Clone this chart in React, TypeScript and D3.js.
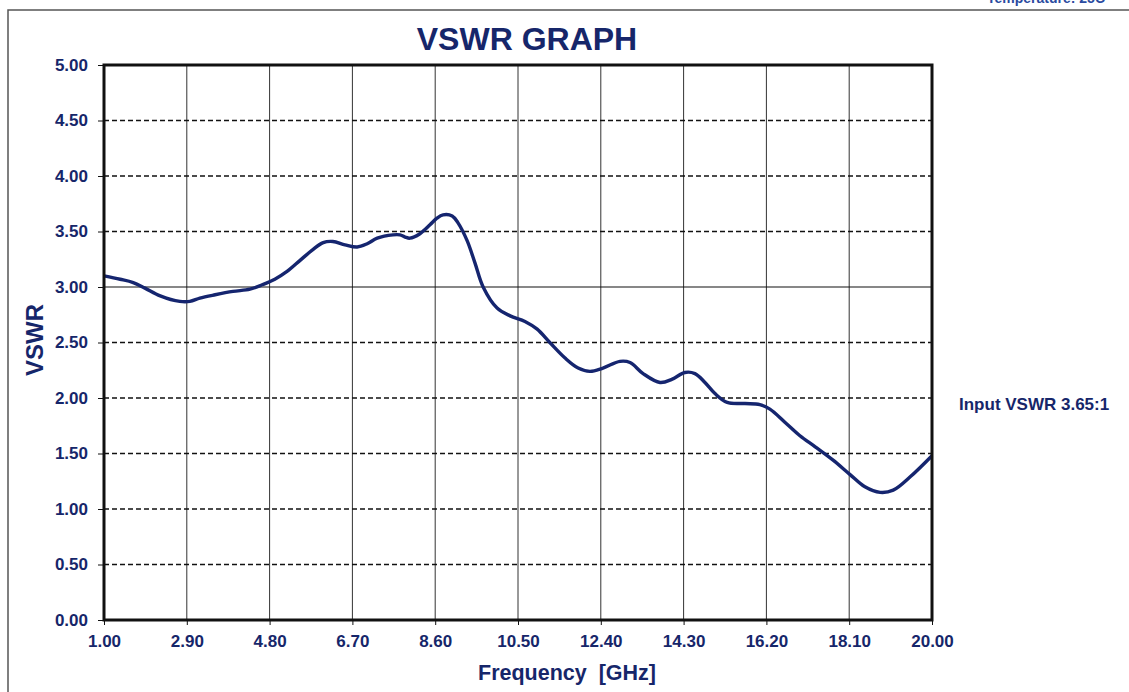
import React, { useEffect, useRef } from 'react';
import * as d3 from 'd3';

// frequency (GHz) and VSWR
const freqs = [
  1.0, 1.37, 1.67, 1.94, 2.29, 2.74, 2.97, 3.2, 3.55, 3.96, 4.35, 4.63, 4.92, 5.2, 5.5, 5.77,
  6.03, 6.25, 6.53, 6.81, 7.04, 7.27, 7.63, 7.79, 7.91, 8.02, 8.25, 8.48, 8.64, 8.78, 8.99,
  9.12, 9.33, 9.51, 9.7, 10.02, 10.32, 10.66, 10.94, 11.23, 11.58, 11.88, 12.15, 12.45, 12.84,
  13.07, 13.37, 13.76, 14.04, 14.33, 14.56, 14.79, 15.02, 15.3, 15.71, 16.05, 16.28, 16.63,
  16.97, 17.32, 17.73, 18.12, 18.46, 18.81, 19.11, 19.5, 20.0,
];
const vswr = [
  3.1, 3.07, 3.04, 2.99, 2.92, 2.87, 2.87, 2.9, 2.93, 2.96, 2.98, 3.02, 3.07, 3.14, 3.24, 3.33,
  3.4, 3.41, 3.38, 3.36, 3.39, 3.44, 3.47, 3.47, 3.45, 3.44, 3.48, 3.56, 3.62, 3.65, 3.64,
  3.58, 3.42, 3.22, 3.0, 2.81, 2.74, 2.69, 2.62, 2.5, 2.36, 2.27, 2.24, 2.27, 2.33,
  2.32, 2.22, 2.14, 2.17, 2.23, 2.22, 2.14, 2.04, 1.96, 1.95, 1.94, 1.9, 1.78,
  1.66, 1.56, 1.44, 1.31, 1.2, 1.15, 1.17, 1.29, 1.48,
];
const xTicks = [1.0, 2.9, 4.8, 6.7, 8.6, 10.5, 12.4, 14.3, 16.2, 18.1, 20.0];
const yTicks = [0, 0.5, 1, 1.5, 2, 2.5, 3, 3.5, 4, 4.5, 5];

const NAVY = '#16266a';
const LINE = '#15256f';
const FONT = 'Liberation Sans, Arial, sans-serif';

const App = () => {
  const ref = useRef<SVGSVGElement>(null);

  useEffect(() => {
    const svg = d3.select(ref.current);
    svg.selectAll('*').remove();

    const left = 104;
    const right = 932;
    const top = 65;
    const bottom = 620;

    const x = d3.scaleLinear().domain([1, 20]).range([left, right]);
    const y = d3.scaleLinear().domain([0, 5]).range([bottom, top]);

    svg.append('rect').attr('width', 1129).attr('height', 692).attr('fill', '#fff');

    // outer frame of the page
    svg
      .append('path')
      .attr('d', 'M8,692 L8,10 L1129,10')
      .attr('fill', 'none')
      .attr('stroke', '#555')
      .attr('stroke-width', 1.5);

    svg
      .append('text')
      .attr('x', 1105)
      .attr('y', 3)
      .attr('text-anchor', 'end')
      .attr('font-family', FONT)
      .attr('font-weight', 'bold')
      .attr('font-size', 14)
      .attr('fill', '#2a4aa0')
      .text('Temperature:  25C');

    // vertical grid
    svg
      .append('g')
      .selectAll('line')
      .data(xTicks.slice(1, -1))
      .enter()
      .append('line')
      .attr('x1', (d) => x(d))
      .attr('x2', (d) => x(d))
      .attr('y1', top)
      .attr('y2', bottom)
      .attr('stroke', '#333')
      .attr('stroke-width', 1);

    // horizontal grid; 3.00 drawn solid
    svg
      .append('g')
      .selectAll('line')
      .data(yTicks.slice(1, -1))
      .enter()
      .append('line')
      .attr('x1', left)
      .attr('x2', right)
      .attr('y1', (d) => y(d))
      .attr('y2', (d) => y(d))
      .attr('stroke', '#111')
      .attr('stroke-width', (d) => (d === 3 ? 1.2 : 1.5))
      .attr('stroke-dasharray', (d) => (d === 3 ? null : '5,3'));

    // curve
    const pts: [number, number][] = freqs.map((f, i) => [f, vswr[i]]);
    const line = d3
      .line<[number, number]>()
      .x((d) => x(d[0]))
      .y((d) => y(d[1]))
      .curve(d3.curveCatmullRom.alpha(0.5));
    svg
      .append('path')
      .datum(pts)
      .attr('d', line)
      .attr('fill', 'none')
      .attr('stroke', LINE)
      .attr('stroke-width', 3.4)
      .attr('stroke-linejoin', 'round');

    // plot border
    svg
      .append('rect')
      .attr('x', left)
      .attr('y', top)
      .attr('width', right - left)
      .attr('height', bottom - top)
      .attr('fill', 'none')
      .attr('stroke', '#111')
      .attr('stroke-width', 3);

    // axes
    const yAxis = svg
      .append('g')
      .attr('transform', `translate(${left},0)`)
      .call(
        d3
          .axisLeft(y)
          .tickValues(yTicks)
          .tickFormat((d) => d3.format('.2f')(d as number))
          .tickSize(6)
          .tickPadding(10)
      );
    yAxis.select('.domain').remove();
    yAxis.selectAll('line').attr('stroke', '#111');
    yAxis
      .selectAll('text')
      .attr('font-family', FONT)
      .attr('font-weight', 'bold')
      .attr('font-size', 17)
      .attr('fill', NAVY);

    const xAxis = svg
      .append('g')
      .attr('transform', `translate(0,${bottom})`)
      .call(
        d3
          .axisBottom(x)
          .tickValues(xTicks)
          .tickFormat((d) => d3.format('.2f')(d as number))
          .tickSize(5)
          .tickPadding(10)
      );
    xAxis.select('.domain').remove();
    xAxis.selectAll('line').attr('stroke', '#111');
    xAxis
      .selectAll('text')
      .attr('font-family', FONT)
      .attr('font-weight', 'bold')
      .attr('font-size', 17)
      .attr('fill', NAVY);

    // titles
    svg
      .append('text')
      .attr('x', 527)
      .attr('y', 50)
      .attr('text-anchor', 'middle')
      .attr('font-family', FONT)
      .attr('font-weight', 'bold')
      .attr('font-size', 32)
      .attr('fill', NAVY)
      .text('VSWR GRAPH');

    svg
      .append('text')
      .attr('x', 567)
      .attr('y', 680)
      .attr('text-anchor', 'middle')
      .attr('font-family', FONT)
      .attr('font-weight', 'bold')
      .attr('font-size', 21.5)
      .attr('fill', NAVY)
      .style('white-space', 'pre')
      .text('Frequency  [GHz]');

    svg
      .append('text')
      .attr('transform', 'translate(43,340) rotate(-90)')
      .attr('text-anchor', 'middle')
      .attr('font-family', FONT)
      .attr('font-weight', 'bold')
      .attr('font-size', 24)
      .attr('fill', NAVY)
      .text('VSWR');

    svg
      .append('text')
      .attr('x', 959)
      .attr('y', 410)
      .attr('font-family', FONT)
      .attr('font-weight', 'bold')
      .attr('font-size', 17)
      .attr('fill', NAVY)
      .text('Input VSWR 3.65:1');
  }, []);

  return (
    <svg
      ref={ref}
      width={1129}
      height={692}
      style={{ position: 'absolute', left: 0, top: 0, display: 'block' }}
    />
  );
};

export default App;
